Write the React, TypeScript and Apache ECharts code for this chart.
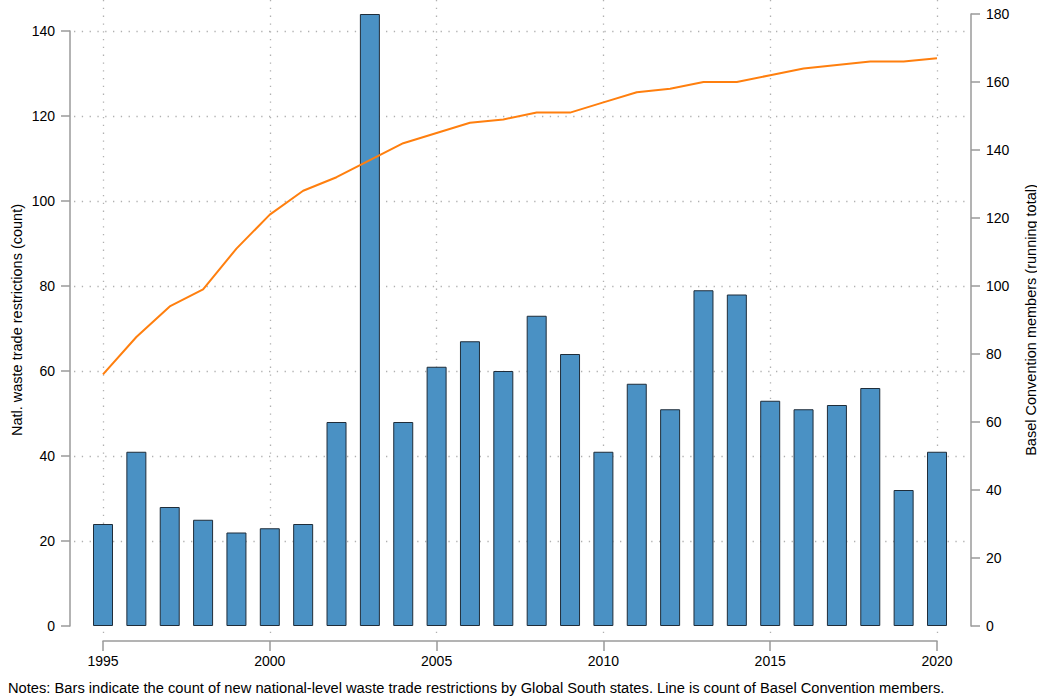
import React, { useEffect, useRef } from "react";
import * as echarts from "echarts";

const years = [1995, 1996, 1997, 1998, 1999, 2000, 2001, 2002, 2003, 2004, 2005, 2006, 2007, 2008, 2009, 2010, 2011, 2012, 2013, 2014, 2015, 2016, 2017, 2018, 2019, 2020];
const restrictions = [24, 41, 28, 25, 22, 23, 24, 48, 144, 48, 61, 67, 60, 73, 64, 41, 57, 51, 79, 78, 53, 51, 52, 56, 32, 41];
const baselMembers = [74, 85, 94, 99, 111, 121, 128, 132, 137, 142, 145, 148, 149, 151, 151, 154, 157, 158, 160, 160, 162, 164, 165, 166, 166, 167];
const leftTitle = "Natl. waste trade restrictions (count)";
const rightTitle = "Basel Convention members (running total)";
const notes = "Notes: Bars indicate the count of new national-level waste trade restrictions by Global South states. Line is count of Basel Convention members.";

const FONT = "'Liberation Sans', Arial, Helvetica, sans-serif";
const AXIS_COLOR = "#9a9a9a";
const GRID_LINE = { show: true, lineStyle: { color: "#b0b0b0", width: 1.3, type: [1.3, 6.5] } };

export default function App() {
  const ref = useRef<HTMLDivElement>(null);
  useEffect(() => {
    if (!ref.current) return;
    const chart = echarts.init(ref.current, undefined, { renderer: "svg" });
    const pxPerYear = (937 - 103) / 25;
    const option: any = {
      animation: false,
      textStyle: { fontFamily: FONT },
      title: {
        text: notes,
        left: 8,
        top: 680,
        padding: 0,
        textStyle: { fontSize: 14.7, fontWeight: "normal", color: "#000", fontFamily: FONT },
      },
      graphic: [
        {
          type: "text",
          x: 17,
          y: 320,
          rotation: Math.PI / 2,
          style: {
            text: leftTitle,
            fill: "#000",
            font: `14.5px ${FONT}`,
            align: "center",
            verticalAlign: "middle",
          },
        },
      ],
      grid: [
        { left: 74, right: 70, top: 31, bottom: 72, outerBoundsMode: "none", containLabel: false },
        { left: 74, right: 66, top: 14, bottom: 72, outerBoundsMode: "none", containLabel: false },
        { left: 103, right: 100, top: 0, bottom: 63, outerBoundsMode: "none", containLabel: false },
      ],
      xAxis: [
        {
          type: "value",
          gridIndex: 0,
          min: 1995 - 29 / pxPerYear,
          max: 2020 + 30 / pxPerYear,
          show: false,
        },
        { type: "value", gridIndex: 1, min: 0, max: 1, show: false },
        {
          type: "value",
          gridIndex: 2,
          min: 1995,
          max: 2020,
          interval: 5,
          offset: 6,
          axisLine: { show: true, onZero: false, lineStyle: { color: AXIS_COLOR, width: 1.5 } },
          axisTick: { show: true, length: 10, lineStyle: { color: AXIS_COLOR, width: 1.5 } },
          axisLabel: {
            show: true,
            color: "#000",
            fontSize: 14,
            margin: 13,
            fontFamily: FONT,
            formatter: (v: number) => String(v),
          },
          splitLine: { ...GRID_LINE, showMinLine: true, showMaxLine: true },
        },
      ],
      yAxis: [
        {
          type: "value",
          gridIndex: 0,
          position: "left",
          min: 0,
          max: 140,
          interval: 20,
          offset: 4,
          axisLine: { show: true, onZero: false, lineStyle: { color: AXIS_COLOR, width: 1.5 } },
          axisTick: { show: true, length: 9, lineStyle: { color: AXIS_COLOR, width: 1.5 } },
          axisLabel: { show: true, color: "#000", fontSize: 14, margin: 15, fontFamily: FONT },
          splitLine: { ...GRID_LINE, showMinLine: false, showMaxLine: true },
        },
        { type: "value", gridIndex: 0, position: "right", min: 0, max: 175, show: false },
        {
          type: "value",
          gridIndex: 1,
          position: "right",
          min: 0,
          max: 180,
          interval: 20,
          axisLine: { show: true, onZero: false, lineStyle: { color: AXIS_COLOR, width: 1.5 } },
          axisTick: { show: true, length: 9, lineStyle: { color: AXIS_COLOR, width: 1.5 } },
          axisLabel: { show: true, color: "#000", fontSize: 14, margin: 15, fontFamily: FONT },
          splitLine: { show: false },
          name: rightTitle,
          nameLocation: "middle",
          nameRotate: 90,
          nameGap: 52,
          nameMoveOverlap: false,
          nameTextStyle: { color: "#000", fontSize: 14.5, fontFamily: FONT },
        },
        { type: "value", gridIndex: 2, min: 0, max: 1, show: false },
      ],
      series: [
        {
          type: "bar",
          xAxisIndex: 0,
          yAxisIndex: 0,
          data: years.map((y, i) => [y, restrictions[i]]),
          barWidth: 20,
          clip: false,
          itemStyle: { color: "#4a91c4", borderColor: "#1f2d3a", borderWidth: 1 },
        },
        {
          type: "line",
          xAxisIndex: 0,
          yAxisIndex: 1,
          data: years.map((y, i) => [y, baselMembers[i]]),
          symbol: "none",
          clip: false,
          lineStyle: { color: "#ff7f0e", width: 2 },
          z: 5,
        },
      ],
    };
    chart.setOption(option);
    return () => chart.dispose();
  }, []);
  return (
    <div
      ref={ref}
      style={{ position: "fixed", left: 0, top: 0, width: 1037, height: 698, background: "#fff" }}
    />
  );
}
